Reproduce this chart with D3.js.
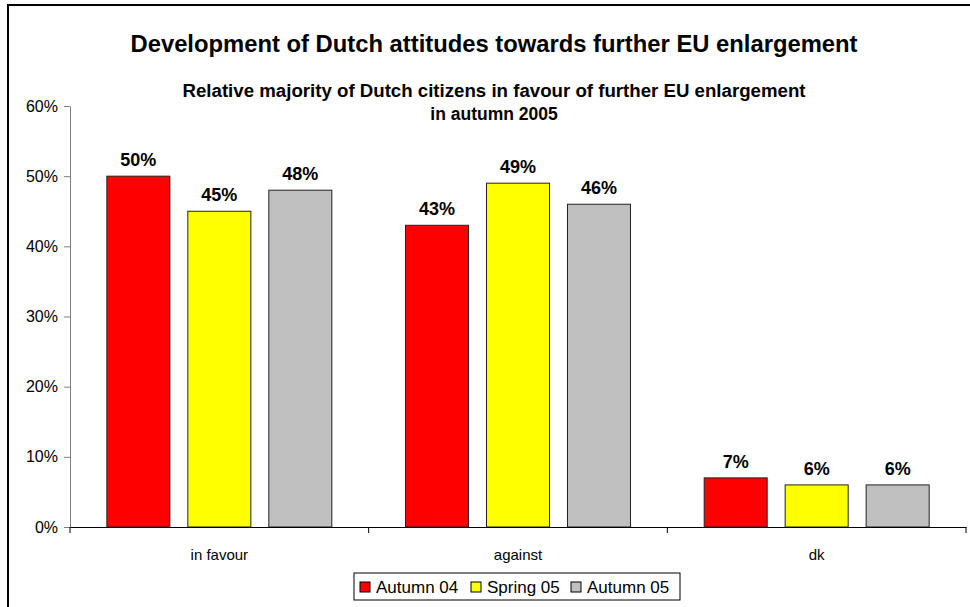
<!DOCTYPE html>
<html><head><meta charset="utf-8">
<script src="https://cdn.jsdelivr.net/npm/d3@7"></script>
<style>
html,body{margin:0;padding:0;background:#fff;}
text{font-family:"Liberation Sans",Arial,sans-serif;}
</style></head>
<body>
<svg id="c" width="970" height="607"></svg>
<script>
const categories = ["in favour", "against", "dk"];
const seriesNames = ["Autumn 04", "Spring 05", "Autumn 05"];
const seriesColors = ["#FF0000", "#FFFF00", "#C0C0C0"];
const autumn04 = [50, 43, 7];
const spring05 = [45, 49, 6];
const autumn05 = [48, 46, 6];
const yTicks = [0, 10, 20, 30, 40, 50, 60];
const title = "Development of Dutch attitudes towards further EU enlargement";
const subtitle = ["Relative majority of Dutch citizens in favour of further EU enlargement", "in autumn 2005"];

const seriesValues = [autumn04, spring05, autumn05];
const svg = d3.select("#c");

// outer frame (left & top visible)
svg.append("rect").attr("x", 8).attr("y", 5).attr("width", 1000).attr("height", 700)
  .attr("fill", "none").attr("stroke", "#000").attr("stroke-width", 2);

const pLeft = 70, pRight = 966, pTop = 106, pBottom = 527;
const y = d3.scaleLinear().domain([0, 60]).range([pBottom, pTop]);
const x0 = d3.scaleBand().domain(categories).range([pLeft, pRight]).paddingInner(0).paddingOuter(0);
const x1 = d3.scaleBand().domain(seriesNames).range([0, x0.bandwidth()]).paddingInner(0.222).paddingOuter(0.455);

// y axis
const yAxis = d3.axisLeft(y).tickValues(yTicks).tickFormat(d => d + "%").tickSize(6).tickSizeOuter(0);
const gy = svg.append("g").attr("transform", `translate(${pLeft},0)`).call(yAxis);
gy.select(".domain").attr("stroke", "#808080");
gy.selectAll(".tick line").attr("stroke", "#808080");
gy.selectAll(".tick text").attr("font-size", 16).attr("fill", "#000").attr("x", -12)
  .attr("font-family", "Liberation Sans, Arial, sans-serif");

// bars
categories.forEach((cat, ci) => {
  seriesNames.forEach((s, si) => {
    const v = seriesValues[si][ci];
    svg.append("rect")
      .attr("x", x0(cat) + x1(s)).attr("y", y(v))
      .attr("width", x1.bandwidth()).attr("height", y(0) - y(v))
      .attr("fill", seriesColors[si]).attr("stroke", "#222").attr("stroke-width", 1);
    svg.append("text")
      .attr("x", x0(cat) + x1(s) + x1.bandwidth() / 2).attr("y", y(v) - 10)
      .attr("text-anchor", "middle").attr("font-size", 18).attr("font-weight", "bold")
      .text(v + "%");
  });
});

// x axis
const xAxis = d3.axisBottom(x0).tickSize(0).tickSizeOuter(0);
const gx = svg.append("g").attr("transform", `translate(0,${pBottom})`).call(xAxis);
gx.select(".domain").attr("stroke", "#000");
gx.selectAll(".tick text").attr("font-size", 15).attr("fill", "#000").attr("dy", 0).attr("y", 33)
  .attr("font-family", "Liberation Sans, Arial, sans-serif");
// category separators
const seps = categories.map(c => x0(c)).concat([pRight]);
svg.selectAll(".sep").data(seps).enter().append("line")
  .attr("x1", d => d).attr("x2", d => d).attr("y1", pBottom).attr("y2", pBottom + 6)
  .attr("stroke", "#000");

// titles
svg.append("text").attr("x", 494).attr("y", 52).attr("text-anchor", "middle")
  .attr("font-size", 23).attr("font-weight", "bold")
  .attr("textLength", 727).attr("lengthAdjust", "spacingAndGlyphs").text(title);
subtitle.forEach((t, i) => {
  const tx = svg.append("text").attr("x", 494).attr("y", 97 + i * 23).attr("text-anchor", "middle")
    .attr("font-size", 17.5).attr("font-weight", "bold").text(t);
  if (i === 0) tx.attr("textLength", 623).attr("lengthAdjust", "spacingAndGlyphs");
});

// legend
const lg = svg.append("g");
lg.append("rect").attr("x", 354).attr("y", 573).attr("width", 326).attr("height", 27)
  .attr("fill", "#fff").attr("stroke", "#000").attr("stroke-width", 1);
const legX = [360, 471, 571];
seriesNames.forEach((s, i) => {
  lg.append("rect").attr("x", legX[i]).attr("y", 582).attr("width", 10).attr("height", 10)
    .attr("fill", seriesColors[i]).attr("stroke", "#000");
  lg.append("text").attr("x", legX[i] + 16).attr("y", 593).attr("font-size", 17).text(s);
});
</script>
</body></html>
